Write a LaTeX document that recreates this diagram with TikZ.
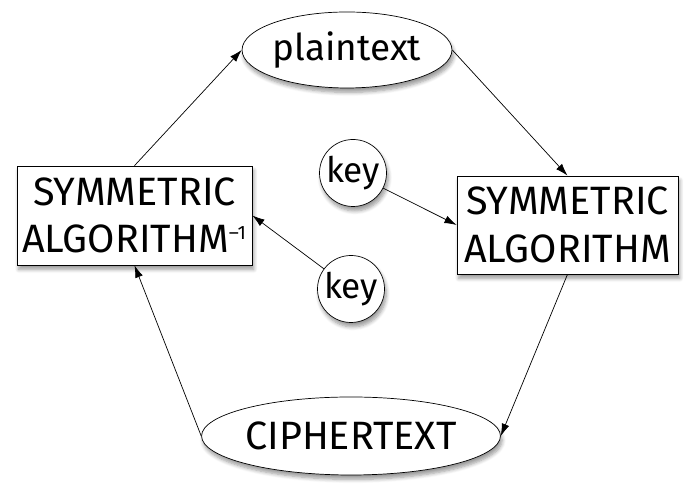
\documentclass[tikz,border=0pt]{standalone}
\usepackage{fontspec}
\setmainfont{Fira Sans}
\usetikzlibrary{shapes.geometric, shadows.blur, arrows.meta}
\tikzset{
every node/.style={font=\fontsize{22.5}{27}\selectfont, align=center, fill=white, draw, thin},
oval/.style={ellipse, inner sep=0pt, blur shadow={shadow xshift=1pt, shadow yshift=-2.5pt, shadow blur steps=6}},
algbox/.style={rectangle, inner sep=0pt, blur shadow={shadow xshift=1pt, shadow yshift=-2.5pt, shadow blur steps=6}},
keynode/.style={circle, inner sep=0pt, minimum size=1.34cm, font=\fontsize{20}{24}\selectfont, blur shadow={shadow xshift=1pt, shadow yshift=-2.5pt, shadow blur steps=6}},
flow/.style={-{Latex[length=7pt, width=4.5pt]}, thin},
}
\begin{document}
\begin{tikzpicture}
            \useasboundingbox (0,0) rectangle (14,10);
            \node[oval, minimum width=4.14cm, minimum height=1.52cm, font=\fontsize{21}{24}\selectfont] (plain) at (6.94,9.0) {plaintext};
            \node[oval, minimum width=5.76cm, minimum height=1.56cm] (cipher) at (7.02,1.28) {CIPHERTEXT};
            \node[algbox, minimum width=4.7cm, minimum height=1.98cm] (inv) at (2.69,5.69) {SYMMETRIC\\ALGORITHM\textsuperscript{\fontsize{11}{11}\selectfont --1}};
            \node[algbox, minimum width=4.42cm, minimum height=1.96cm] (alg) at (11.35,5.5) {SYMMETRIC\\ALGORITHM};
            \node[keynode] (key1) at (7.06,6.54) {key};
            \node[keynode] (key2) at (7.02,4.22) {key};
            \draw[flow] (inv.north) -- (plain.west);
            \draw[flow] (plain.east) -- (alg.north);
            \draw[flow] (alg.south) -- (cipher.east);
            \draw[flow] (cipher.west) -- (inv.south);
            \draw[flow] (key1) -- (alg.west);
            \draw[flow] (key2) -- (inv.east);
        \end{tikzpicture}
\end{document}
